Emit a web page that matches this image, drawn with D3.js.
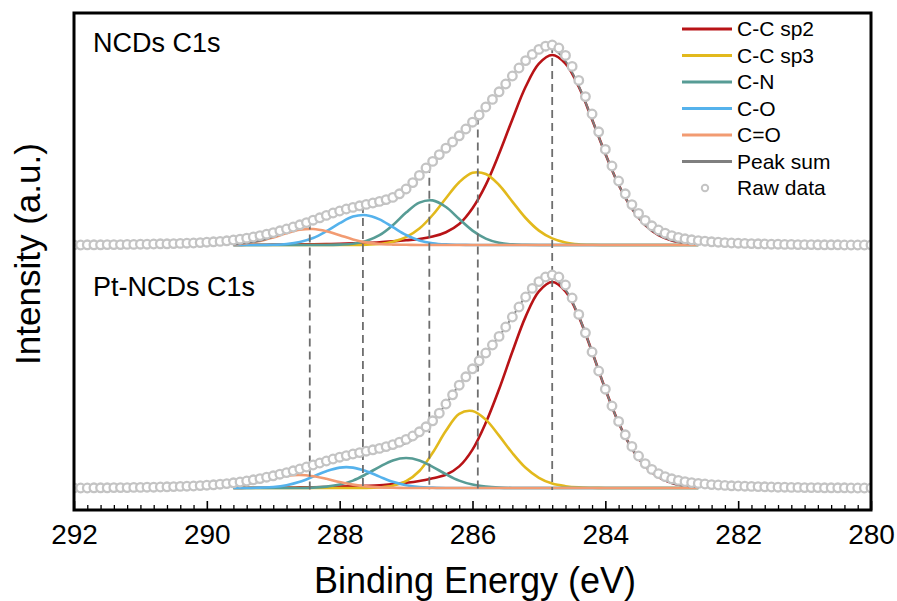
<!DOCTYPE html>
<html><head><meta charset="utf-8">
<script src="https://cdn.jsdelivr.net/npm/d3@7"></script>
<style>
body{margin:0;background:#fff}
svg{display:block}
text{font-family:"Liberation Sans",Arial,sans-serif;fill:#000}
</style>
</head><body>
<svg id="chart" width="897" height="601"></svg>
<script>
// ---------------- DATA ----------------
// Raw data, 292.0 eV down to 280.0 eV in 0.1 eV steps
const rawStartEnergy = 292.0;
const rawStep = 0.1;
const rawNCDs = [
0.000,0.000,0.001,0.001,0.001,0.002,0.002,0.002,0.003,0.003,
0.004,0.004,0.005,0.006,0.006,0.007,0.008,0.009,0.010,0.012,
0.014,0.016,0.018,0.021,0.025,0.029,0.034,0.040,0.047,0.054,
0.062,0.071,0.080,0.090,0.101,0.112,0.124,0.136,0.148,0.160,
0.170,0.180,0.188,0.196,0.203,0.210,0.218,0.227,0.238,0.256,
0.280,0.312,0.348,0.385,0.418,0.452,0.484,0.515,0.546,0.580,
0.614,0.650,0.690,0.728,0.766,0.805,0.845,0.885,0.922,0.953,
0.978,0.994,1.000,0.985,0.948,0.893,0.823,0.742,0.655,0.566,
0.478,0.395,0.320,0.256,0.202,0.158,0.123,0.096,0.075,0.059,
0.047,0.038,0.031,0.026,0.022,0.019,0.016,0.014,0.012,0.010,
0.009,0.008,0.007,0.006,0.005,0.004,0.004,0.003,0.003,0.002,
0.002,0.002,0.001,0.001,0.001,0.001,0.000,0.000,0.000,0.000,
0.000];
const rawPtNCDs = [
0.000,0.000,0.000,0.001,0.001,0.001,0.002,0.002,0.002,0.003,
0.003,0.004,0.004,0.005,0.006,0.007,0.008,0.009,0.010,0.012,
0.014,0.016,0.019,0.022,0.026,0.030,0.035,0.041,0.047,0.054,
0.061,0.069,0.077,0.086,0.095,0.105,0.115,0.125,0.135,0.145,
0.154,0.162,0.170,0.177,0.184,0.191,0.198,0.207,0.217,0.229,
0.243,0.260,0.281,0.306,0.336,0.374,0.420,0.466,0.514,0.556,
0.596,0.636,0.675,0.715,0.758,0.805,0.855,0.905,0.955,0.998,
1.032,1.055,1.065,1.055,1.015,0.950,0.868,0.776,0.680,0.585,
0.494,0.410,0.333,0.266,0.208,0.160,0.122,0.093,0.072,0.057,
0.046,0.038,0.032,0.027,0.023,0.020,0.017,0.015,0.013,0.011,
0.010,0.009,0.008,0.007,0.006,0.005,0.004,0.004,0.003,0.003,
0.002,0.002,0.002,0.001,0.001,0.001,0.001,0.000,0.000,0.000,
0.000];

// Fitted components on the fit grid
const fitEnergy = [289.6,289.4,289.2,289.0,288.8,288.6,288.4,288.2,288.0,287.8,
287.6,287.4,287.2,287.0,286.8,286.6,286.4,286.2,286.0,285.8,
285.6,285.4,285.2,285.0,284.8,284.6,284.4,284.2,284.0,283.8,
283.6,283.4,283.2,283.0,282.8,282.6];

const ncdsSp2 = [0.000,0.001,0.001,0.002,0.002,0.003,0.004,0.005,0.006,0.008,
0.010,0.013,0.018,0.024,0.030,0.042,0.064,0.105,0.184,0.301,
0.456,0.628,0.791,0.907,0.950,0.907,0.791,0.628,0.456,0.301,
0.182,0.100,0.050,0.023,0.010,0.004];
const ncdsSp3 = [0,0,0,0,0,0,0,0,0,0,
0.002,0.005,0.016,0.039,0.082,0.150,0.234,0.314,0.361,0.355,
0.300,0.217,0.135,0.072,0.033,0.013,0.004,0.001,0,0,
0,0,0,0,0,0];
const ncdsCN = [0,0,0,0,0,0,0,0,0.002,0.006,
0.020,0.049,0.099,0.162,0.212,0.223,0.190,0.130,0.072,0.032,
0.011,0.003,0.001,0,0,0,0,0,0,0,
0,0,0,0,0,0];
const ncdsCO = [0,0,0,0.001,0.005,0.015,0.035,0.069,0.109,0.142,
0.149,0.128,0.089,0.050,0.023,0.009,0.003,0.001,0,0,
0,0,0,0,0,0,0,0,0,0,
0,0,0,0,0,0];
const ncdsCdO = [0.003,0.009,0.020,0.038,0.059,0.076,0.080,0.069,0.049,0.028,
0.013,0.005,0.002,0.001,0,0,0,0,0,0,
0,0,0,0,0,0,0,0,0,0,
0,0,0,0,0,0];

const ptSp2 = [0.000,0.001,0.001,0.002,0.002,0.003,0.004,0.005,0.007,0.009,
0.011,0.014,0.020,0.026,0.035,0.049,0.066,0.108,0.192,0.326,
0.494,0.681,0.857,0.983,1.030,0.983,0.857,0.681,0.494,0.326,
0.197,0.108,0.054,0.025,0.011,0.004];
const ptSp3 = [0,0,0,0,0,0,0,0,0,0,
0,0.003,0.011,0.034,0.085,0.176,0.286,0.371,0.385,0.342,
0.262,0.175,0.101,0.051,0.022,0.009,0.003,0.001,0,0,
0,0,0,0,0,0];
const ptCN = [0,0,0,0,0,0,0.002,0.007,0.017,0.037,
0.069,0.106,0.138,0.150,0.138,0.106,0.069,0.037,0.017,0.007,
0.002,0,0,0,0,0,0,0,0,0,
0,0,0,0,0,0];
const ptCO = [0,0,0.002,0.005,0.014,0.031,0.057,0.084,0.102,0.102,
0.084,0.057,0.031,0.014,0.005,0.002,0,0,0,0,
0,0,0,0,0,0,0,0,0,0,
0,0,0,0,0,0];
const ptCdO = [0.010,0.019,0.033,0.049,0.061,0.065,0.059,0.046,0.030,0.017,
0.008,0.003,0.001,0,0,0,0,0,0,0,
0,0,0,0,0,0,0,0,0,0,
0,0,0,0,0,0];

const componentNames = ["C-C sp2","C-C sp3","C-N","C-O","C=O"];
const peakCenters = [288.45, 287.65, 286.65, 285.92, 284.8];
const panelLabels = ["NCDs C1s","Pt-NCDs C1s"];
const xTickValues = [292,290,288,286,284,282,280];
const legendNames = ["C-C sp2","C-C sp3","C-N","C-O","C=O","Peak sum","Raw data"];

// ---------------- STYLE / LAYOUT ----------------
const compColors = ["#b81316","#e2b91c","#579c95","#55b2ec","#f29b72"];
const sumColor = "#7f7f7f";
const rawColor = "#c4c4c4";
const plot = {left:74, right:871, top:13, bottom:510};
const topOffset = 1.215;

const svg = d3.select("#chart");
const x = d3.scaleLinear().domain([292,280]).range([plot.left, plot.right]);
const y = d3.scaleLinear().domain([-0.11, 2.375]).range([plot.bottom, plot.top]);

svg.append("defs").append("clipPath").attr("id","clip")
  .append("rect").attr("x",plot.left).attr("y",plot.top)
  .attr("width",plot.right-plot.left).attr("height",plot.bottom-plot.top);

const panels = [
  {label:panelLabels[0], offset:topOffset, raw:rawNCDs, comps:[ncdsSp2,ncdsSp3,ncdsCN,ncdsCO,ncdsCdO], labelY:52},
  {label:panelLabels[1], offset:0, raw:rawPtNCDs, comps:[ptSp2,ptSp3,ptCN,ptCO,ptCdO], labelY:296}
];

const gPlot = svg.append("g").attr("clip-path","url(#clip)");

function rawPoints(arr){ return arr.map((v,i)=>[rawStartEnergy - i*rawStep, v]); }

panels.forEach(p=>{
  const line = d3.line().x(d=>x(d[0])).y(d=>y(d[1]+p.offset)).curve(d3.curveCatmullRom.alpha(0.5));
  p.comps.forEach((c,ci)=>{
    gPlot.append("path").datum(fitEnergy.map((e,i)=>[e,c[i]]))
      .attr("d",line).attr("fill","none").attr("stroke",compColors[ci])
      .attr("stroke-width",2.6).attr("stroke-linejoin","round");
  });
  const sum = fitEnergy.map((e,i)=>[e, d3.sum(p.comps, c=>c[i])]);
  gPlot.append("path").datum(sum).attr("d",line).attr("fill","none")
    .attr("stroke",sumColor).attr("stroke-width",2);
});

// dashed guide lines from top raw curve to bottom baseline
function rawAt(arr,e){
  const f = (rawStartEnergy - e)/rawStep;
  const i0 = Math.floor(f), t = f - i0;
  return arr[i0]*(1-t) + arr[Math.min(i0+1,arr.length-1)]*t;
}
gPlot.selectAll("line.guide").data(peakCenters).join("line").attr("class","guide")
  .attr("x1",d=>x(d)).attr("x2",d=>x(d))
  .attr("y1",d=>y(rawAt(rawNCDs,d)+topOffset)).attr("y2",y(0)+2)
  .attr("stroke","#6e6e6e").attr("stroke-width",1.8).attr("stroke-dasharray","8,5");

// raw data circles
panels.forEach(p=>{
  gPlot.append("g").selectAll("circle").data(rawPoints(p.raw)).join("circle")
    .attr("cx",d=>x(d[0])).attr("cy",d=>y(d[1]+p.offset)).attr("r",4.3)
    .attr("fill","#fff").attr("stroke",rawColor).attr("stroke-width",2.3);
});

// panel labels
panels.forEach(p=>{
  svg.append("text").attr("x",93).attr("y",p.labelY).attr("font-size",27).text(p.label);
});

// axes
const minorTicks = d3.range(0,61).map(i=>+(280+i*0.2).toFixed(1)).filter(v=>!xTickValues.includes(v));
const gMinor = svg.append("g").attr("transform",`translate(0,${plot.bottom})`)
  .call(d3.axisBottom(x).tickValues(minorTicks).tickSize(-5).tickFormat(""));
gMinor.select(".domain").remove();
gMinor.selectAll("line").attr("stroke","#000").attr("stroke-width",1.3);

const gMajor = svg.append("g").attr("transform",`translate(0,${plot.bottom})`)
  .call(d3.axisBottom(x).tickValues(xTickValues).tickSize(-9).tickPadding(14).tickFormat(d3.format("d")));
gMajor.select(".domain").remove();
gMajor.selectAll("line").attr("stroke","#000").attr("stroke-width",1.6);
gMajor.selectAll("text").attr("font-size",28).attr("font-family","'Liberation Sans',Arial,sans-serif").attr("fill","#000");

// frame
svg.append("rect").attr("x",plot.left).attr("y",plot.top)
  .attr("width",plot.right-plot.left).attr("height",plot.bottom-plot.top)
  .attr("fill","none").attr("stroke","#000").attr("stroke-width",3);

// axis titles
svg.append("text").attr("x",475).attr("y",593)
  .attr("text-anchor","middle").attr("font-size",36).text("Binding Energy (eV)");
svg.append("text").attr("transform","translate(40,254) rotate(-90)")
  .attr("text-anchor","middle").attr("font-size",35).text("Intensity (a.u.)");

// legend
const lg = svg.append("g");
legendNames.forEach((n,i)=>{
  const yy = 29 + i*26.5;
  if(i < 6){
    lg.append("line").attr("x1",682).attr("x2",732).attr("y1",yy).attr("y2",yy)
      .attr("stroke", i<5 ? compColors[i] : sumColor).attr("stroke-width",3);
  } else {
    lg.append("circle").attr("cx",705).attr("cy",yy).attr("r",3.2)
      .attr("fill","#fff").attr("stroke",rawColor).attr("stroke-width",2);
  }
  lg.append("text").attr("x",737).attr("y",yy).attr("dy","0.35em").attr("font-size",21).text(n);
});
</script>
</body></html>
